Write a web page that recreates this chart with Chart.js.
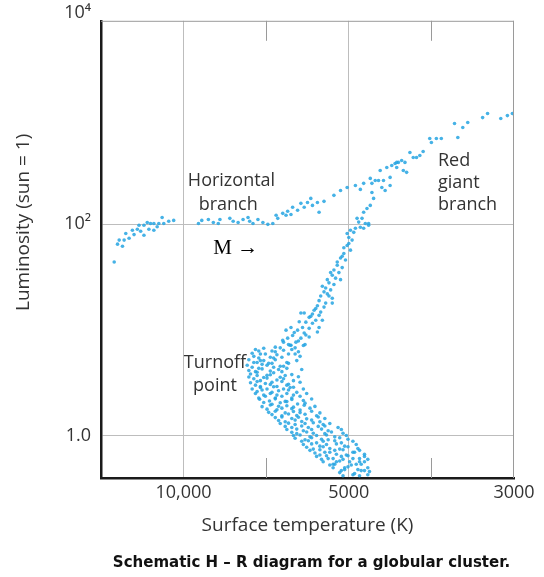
<!DOCTYPE html>
<html><head><meta charset="utf-8">
<script src="https://cdn.jsdelivr.net/npm/chart.js@4.4.0/dist/chart.umd.min.js"></script>
<style>html,body{margin:0;padding:0;background:#fff}#wrap{width:544px;height:577px;position:relative}</style>
</head><body><div id="wrap"><canvas id="c"></canvas></div>
<script>
// x axis is the schematic temperature axis: 0 = 10,000 K, 1 = 5000 K, 2 = 3000 K
const xTickValues = [0, 1, 2];
const xTickLabels = ['10,000', '5000', '3000'];
const xMinorTicks = [0.5, 1.5];
const yTickValues = [1, 100, 10000];
const yTickLabels = ['1.0', '10²', '10⁴'];

const horizontalBranch = [
[-0.42,44],[-0.40,65],[-0.39,71],[-0.36,71],[-0.33,74],[-0.35,82],[-0.31,88],[-0.28,90],[-0.24,79],[-0.27,98],
[-0.24,98],[-0.22,104],[-0.20,102],[-0.18,102],[-0.21,90],[-0.18,88],[-0.15,102],[-0.13,116],[-0.12,102],[-0.09,107],
[-0.06,109],[0.09,102],[0.15,111],[0.11,109],[0.18,104],[0.21,102],[0.22,111],[0.28,114],[0.30,107],[0.33,104],
[0.36,111],[0.39,116],[0.40,107],[0.42,102],[0.45,111],[0.48,104],[0.51,100],[0.54,102],[0.56,122],[0.57,114],
[0.60,127],[0.62,122],[0.63,133],[0.65,124],[0.66,145],[0.69,136],[0.71,158],[0.73,145],[0.75,161],
[-0.37,62],[-0.30,80],[-0.26,86],[-0.16,95]
];
const giantBranchUpper = [
[0.77,176],[0.78,151],[0.81,161],[0.82,130],[0.85,165],[0.91,188],[0.95,209],[0.99,223],[1.04,233],[1.07,214],
[1.09,244],[1.13,272],[1.14,244],[1.16,260],[1.18,260],[1.19,323],[1.21,260],[1.23,345],[1.25,278],[1.26,360],
[1.29,385],[1.28,376],[1.30,385],[1.32,402],[1.34,385],[1.37,478],[1.39,429],[1.41,429],[1.43,448],[1.45,488],
[1.49,648],[1.50,594],[1.53,648],[1.56,648],[1.64,897],[1.66,662],[1.69,822],[1.72,917],[1.81,1021],[1.84,1115],
[1.92,1000],[1.96,1067],[1.99,1115],[1.20,223],[1.22,209],[1.25,233],[1.14,200],[1.33,323],[1.35,310],[1.29,345]
];
const giantBranchLower = [
[1.15,176],[1.13,151],[1.11,141],[1.09,130],[1.08,114],[1.05,114],[1.10,102],[1.12,98],[1.07,94],[1.04,92],
[1.01,88],[1.00,75],[1.09,92],[1.12,102],[0.99,82],[1.02,71],[0.99,63],[1.01,57],[0.97,53],[0.95,48],
[0.98,46],[0.93,41],[0.96,39],[0.91,37],[0.94,35],[0.89,35],[0.92,31],[0.95,30],[0.88,28],[0.91,27],
[0.86,25],[0.89,24],[0.85,23],[0.88,21],[0.83,21],[0.90,20],[0.82,19],[0.86,18],[0.90,18],[0.81,17],
[0.85,16.5],[0.79,15.4],[0.83,14.8],[0.78,14.2],[0.82,13.8],[0.76,13.2],[0.80,12.4],[0.84,12.4],[0.73,14.5],[0.71,14.5],
[0.74,11.9],[0.78,11.6],[0.82,10.6],[0.72,10.6],[0.76,10.4],[0.81,9.6],[0.69,10.0],[0.73,9.4],[0.65,10.6],[0.62,10.0],
[0.66,8.9],[0.71,8.4],[0.63,8.4],[0.76,8.6],[0.68,7.7],[0.60,8.0],[0.65,7.2],
[1.06,105],[1.03,84],[1.00,66],[0.97,60],[0.96,50],[0.93,44],[0.90,33],[0.87,30],[0.84,26],[0.87,22],
[0.80,16],[0.77,13.5],[0.70,12],[0.67,9.5],[0.74,9.0]
];
const turnoffRegion = [
[0.605,7.7],[0.645,7.2],[0.695,7.9],[0.735,7.3],[0.555,6.9],[0.635,7.3],[0.675,6.8],[0.725,7.15],
[0.435,6.55],[0.485,6.75],[0.535,6.35],[0.585,6.8],[0.655,6.55],[0.695,6.25],
[0.415,6.05],[0.455,6.35],[0.495,5.95],[0.555,6.25],[0.605,6.45],[0.675,5.95],
[0.425,5.65],[0.465,5.95],[0.525,5.55],[0.565,5.85],[0.635,5.95],[0.705,5.65],
[0.395,5.25],[0.455,5.45],[0.485,5.15],[0.545,5.45],[0.595,5.55],
[0.425,4.95],[0.465,5.15],[0.515,4.85],[0.555,5.25],[0.625,4.95],[0.685,5.15],
[0.385,4.65],[0.445,4.95],[0.475,4.75],[0.535,4.85],[0.585,4.55],[0.635,4.85],
[0.415,4.45],[0.455,4.35],[0.505,4.65],[0.545,4.45],[0.605,4.55],[0.715,4.25],
[0.395,4.15],[0.435,4.05],[0.475,4.3],[0.525,4.1],[0.575,4.25],[0.625,4.35],
[0.405,3.85],[0.445,4.0],[0.505,3.75],[0.545,3.95],[0.595,4.05],[0.655,3.8],
[0.395,3.6],[0.445,3.72],[0.485,3.57],[0.525,3.78],[0.585,3.58],[0.615,3.72],[0.695,3.62],
[0.425,3.47],[0.465,3.33],[0.505,3.52],[0.565,3.38],[0.605,3.47],[0.665,3.33],
[0.405,3.18],[0.445,3.27],[0.495,3.13],[0.535,3.22],[0.595,3.27],[0.635,3.08],[0.705,3.22],
[0.435,3.02],[0.465,2.93],[0.525,3.07],[0.565,2.93],[0.625,3.02],[0.665,2.88],
[0.415,2.78],[0.465,2.87],[0.505,2.78],[0.545,2.92],[0.605,2.78],[0.645,2.87],[0.725,2.78],
[0.445,2.63],[0.475,2.72],[0.535,2.58],[0.575,2.67],[0.635,2.72],[0.685,2.58],
[0.435,2.52],[0.485,2.43],[0.525,2.52],[0.565,2.43],[0.625,2.52],[0.665,2.43],[0.745,2.52],
[0.455,2.28],[0.495,2.37],[0.555,2.28],[0.595,2.37],[0.655,2.28],[0.705,2.37]
];
const mainSequence = [
[0.46,2.22],[0.52,2.14],[0.555,2.24],[0.615,2.12],[0.655,2.21],[0.725,2.16],[0.775,2.23],
[0.485,2.07],[0.535,1.99],[0.585,2.06],[0.625,2.11],[0.69,2.0],[0.735,2.04],
[0.475,1.89],[0.525,1.96],[0.575,1.91],[0.625,1.93],[0.665,1.87],[0.73,1.95],[0.795,1.9],
[0.505,1.79],[0.565,1.77],[0.595,1.83],[0.655,1.81],[0.705,1.76],[0.765,1.83],
[0.515,1.67],[0.555,1.71],[0.615,1.65],[0.665,1.7],[0.705,1.66],[0.775,1.71],[0.825,1.65],
[0.535,1.59],[0.595,1.55],[0.635,1.61],[0.685,1.56],[0.735,1.6],[0.805,1.55],
[0.555,1.49],[0.595,1.51],[0.655,1.46],[0.695,1.5],[0.745,1.45],[0.815,1.51],[0.855,1.46],
[0.575,1.4],[0.615,1.36],[0.675,1.41],[0.715,1.37],[0.775,1.41],[0.825,1.36],
[0.585,1.31],[0.635,1.32],[0.675,1.28],[0.735,1.31],[0.785,1.33],[0.845,1.28],[0.885,1.31],
[0.615,1.23],[0.655,1.2],[0.715,1.24],[0.755,1.2],[0.815,1.23],[0.855,1.24],[0.935,1.2],
[0.625,1.15],[0.685,1.16],[0.725,1.12],[0.775,1.15],[0.835,1.16],[0.875,1.12],[0.955,1.15],
[0.655,1.08],[0.685,1.05],[0.745,1.09],[0.785,1.06],[0.855,1.05],[0.895,1.09],[0.965,1.06],
[0.665,1.01],[0.705,1.02],[0.765,0.98],[0.805,1.01],[0.865,1.02],[0.915,0.98],[0.985,1.01],
[0.675,0.95],[0.735,0.92],[0.775,0.96],[0.835,0.93],[0.875,0.92],[0.945,0.96],[0.995,0.93],
[0.715,0.89],[0.755,0.9],[0.805,0.86],[0.845,0.89],[0.915,0.9],[0.955,0.86],[1.025,0.89],
[0.725,0.83],[0.775,0.84],[0.825,0.8],[0.865,0.83],[0.925,0.84],[0.975,0.8],[1.045,0.83],
[0.745,0.78],[0.785,0.75],[0.845,0.79],[0.885,0.76],[0.945,0.75],[0.995,0.79],[1.055,0.76],
[0.765,0.73],[0.825,0.74],[0.855,0.7],[0.915,0.73],[0.965,0.74],[1.025,0.7],[1.065,0.73],
[0.795,0.69],[0.825,0.66],[0.885,0.7],[0.925,0.67],[0.985,0.66],[1.035,0.7],[1.095,0.67],
[0.805,0.64],[0.865,0.65],[0.905,0.61],[0.955,0.64],[0.995,0.65],[1.065,0.61],[1.095,0.64],
[0.835,0.6],[0.875,0.61],[0.925,0.57],[0.965,0.6],[1.025,0.61],[1.065,0.57],[1.115,0.6],
[0.845,0.57],[0.905,0.54],[0.945,0.58],[1.005,0.57],[1.045,0.54],[1.095,0.57],
[0.885,0.53],[0.915,0.54],[0.975,0.5],[1.015,0.53],[1.075,0.54],[1.115,0.5],
[0.905,0.5],[0.955,0.47],[0.995,0.51],[1.055,0.48],[1.095,0.47],
[0.945,0.45],[0.975,0.48],[1.035,0.44],[1.075,0.47],[1.125,0.46],
[0.965,0.42],[1.025,0.43],[1.065,0.42],[1.115,0.43]
];

const toXY = arr => arr.map(p => ({x: p[0], y: p[1]}));
const starColor = 'rgba(38,165,226,0.85)';
const mkSet = (name, arr) => ({label: name, data: toXY(arr), backgroundColor: starColor, borderWidth: 0, pointRadius: 1.8});

const TEXT = '#333';
const SANS = '"Open Sans", "DejaVu Sans", sans-serif';
const CAPTION = 'Schematic H \u2013 R diagram for a globular cluster.';

const deco = {
  id: 'deco',
  afterDraw(chart) {
    const {ctx, chartArea: a, scales: {x, y}} = chart;
    ctx.save();
    ctx.strokeStyle = '#9a9a9a'; ctx.lineWidth = 1;
    ctx.beginPath();
    ctx.moveTo(a.left, a.top + 0.5); ctx.lineTo(a.right, a.top + 0.5);
    ctx.moveTo(a.right - 0.5, a.top); ctx.lineTo(a.right - 0.5, a.bottom);
    xMinorTicks.forEach(v => {
      const px = Math.round(x.getPixelForValue(v)) + 0.5;
      ctx.moveTo(px, a.bottom); ctx.lineTo(px, a.bottom - 20);
      ctx.moveTo(px, a.top); ctx.lineTo(px, a.top + 20);
    });
    ctx.stroke();
    ctx.fillStyle = TEXT;
    ctx.font = '18px ' + SANS;
    ctx.textBaseline = 'middle';
    ctx.textAlign = 'center';
    ctx.fillText('Horizontal', x.getPixelForValue(0.29), y.getPixelForValue(255));
    ctx.fillText('branch', x.getPixelForValue(0.27), y.getPixelForValue(154));
    ctx.fillText('Turnoff', x.getPixelForValue(0.19), y.getPixelForValue(4.9));
    ctx.fillText('point', x.getPixelForValue(0.19), y.getPixelForValue(3.0));
    ctx.textAlign = 'left';
    ctx.fillText('Red', x.getPixelForValue(1.54), y.getPixelForValue(402));
    ctx.fillText('giant', x.getPixelForValue(1.54), y.getPixelForValue(249));
    ctx.fillText('branch', x.getPixelForValue(1.54), y.getPixelForValue(154));
    ctx.fillStyle = '#000';
    ctx.font = '21px "Liberation Serif", serif';
    ctx.fillText('M \u2192', x.getPixelForValue(0.18), y.getPixelForValue(59));
    // caption
    ctx.fillStyle = '#111';
    ctx.font = 'bold 15px "DejaVu Sans", sans-serif';
    ctx.textAlign = 'center';
    ctx.fillText(CAPTION, (a.left + a.right) / 2 + 4, 563);
    // y-axis title
    ctx.fillStyle = TEXT;
    ctx.font = '19px ' + SANS;
    ctx.translate(24, y.getPixelForValue(100) - 2);
    ctx.rotate(-Math.PI / 2);
    ctx.fillText('Luminosity (sun = 1)', 0, 0);
    ctx.restore();
  }
};

new Chart(document.getElementById('c'), {
  type: 'scatter',
  data: {datasets: [
    mkSet('Horizontal branch', horizontalBranch),
    mkSet('Giant branch (upper)', giantBranchUpper),
    mkSet('Red giant branch', giantBranchLower),
    mkSet('Turnoff', turnoffRegion),
    mkSet('Main sequence', mainSequence)
  ]},
  options: {
    responsive: true, maintainAspectRatio: false, animation: false,
    layout: {padding: {left: 0, right: 30, top: 20, bottom: 29}},
    plugins: {legend: {display: false}, tooltip: {enabled: false}},
    scales: {
      x: {
        type: 'linear', min: -0.5, max: 2,
        afterBuildTicks: s => { s.ticks = xTickValues.map(v => ({value: v})); },
        afterFit: s => { s.height = 70; },
        ticks: {color: TEXT, font: {family: SANS, size: 18}, padding: 4, autoSkip: false, maxRotation: 0,
          callback: (v) => xTickLabels[xTickValues.indexOf(v)]},
        grid: {drawTicks: false, color: c => (c.tick && (c.tick.value === 0 || c.tick.value === 1)) ? '#bdbdbd' : 'rgba(0,0,0,0)', lineWidth: 1},
        border: {display: true, color: '#1a1a1a', width: 2.5},
        title: {display: true, text: 'Surface temperature (K)', color: TEXT, font: {family: SANS, size: 19}, padding: {top: 0, bottom: 11}}
      },
      y: {
        type: 'logarithmic', min: 0.4, max: 8400,
        afterBuildTicks: s => { s.ticks = yTickValues.map(v => ({value: v})); },
        afterFit: s => { s.width = 101; },
        ticks: {color: TEXT, font: {family: SANS, size: 18}, padding: 10, autoSkip: false,
          callback: (v) => yTickLabels[yTickValues.indexOf(v)]},
        grid: {drawTicks: false, color: c => (c.tick && (c.tick.value === 1 || c.tick.value === 100)) ? '#bdbdbd' : 'rgba(0,0,0,0)', lineWidth: 1},
        border: {display: true, color: '#1a1a1a', width: 2.5}
      }
    }
  },
  plugins: [deco]
});
</script></body></html>
